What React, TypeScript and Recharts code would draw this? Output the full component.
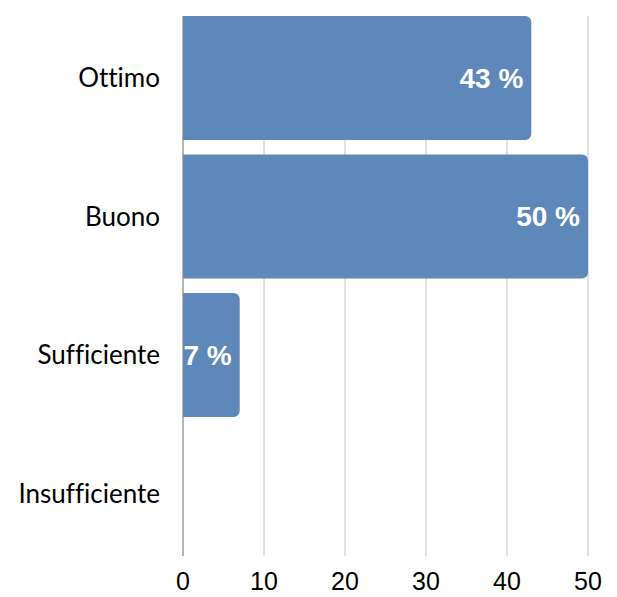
import { BarChart, Bar, XAxis, YAxis, CartesianGrid, LabelList } from "recharts";

const categories = ["Ottimo", "Buono", "Sufficiente", "Insufficiente"];
const percentages = [43, 50, 7, 0];
const xTicks = [0, 10, 20, 30, 40, 50];

const data = categories.map((name, i) => ({ name, value: percentages[i] }));

const BAR_COLOR = "#5D88B9";

const noLigatures = {
  fontVariantLigatures: "none",
  fontFeatureSettings: '"liga" 0, "clig" 0, "dlig" 0',
};

export default function App() {
  return (
    <div style={{ position: "absolute", left: 0, top: 0, background: "#fff" }}>
      <style>{`svg text, svg tspan { font-variant-ligatures: none !important; font-feature-settings: "liga" 0, "clig" 0 !important; }`}</style>
      <BarChart
        width={617}
        height={597}
        data={data}
        layout="vertical"
        margin={{ top: 16, right: 29, bottom: 0, left: 0 }}
        barSize={124}
      >
        <CartesianGrid horizontal={false} stroke="#c4c4c4" strokeWidth={1} />
        <XAxis
          type="number"
          domain={[0, 50]}
          ticks={xTicks}
          axisLine={false}
          tickLine={false}
          height={41}
          tickMargin={10}
          tick={{ fill: "#000", fontSize: 25, fontFamily: "Liberation Sans, Arial, sans-serif" }}
        />
        <YAxis
          type="category"
          dataKey="name"
          width={183}
          padding={{ top: -7, bottom: -7 }}
          axisLine={{ stroke: "#8a8a8a" }}
          tickLine={false}
          tickMargin={17}
          tick={{ fill: "#000", fontSize: 26, fontFamily: "Lato, sans-serif", style: noLigatures }}
        />
        <Bar dataKey="value" fill={BAR_COLOR} radius={[0, 6, 6, 0]} isAnimationActive={false}>
          <LabelList
            dataKey="value"
            position="insideRight"
            offset={8}
            formatter={(v: number) => (v > 0 ? `${v} %` : "")}
            style={{ fill: "#fff", fontSize: 28, fontWeight: "bold", fontFamily: "Liberation Sans, Arial, sans-serif" }}
          />
        </Bar>
      </BarChart>
    </div>
  );
}
